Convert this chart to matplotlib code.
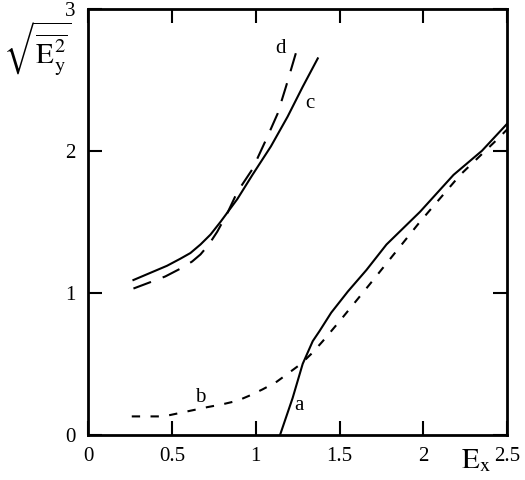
import numpy as np
import matplotlib.pyplot as plt

plt.rcParams['font.family'] = ['Liberation Serif', 'DejaVu Serif']
plt.rcParams['mathtext.fontset'] = 'stix'

# curve a (solid, lower)
a_x = [1.145, 1.22, 1.28, 1.34, 1.38, 1.45, 1.55, 1.66, 1.78, 1.98, 2.18, 2.35, 2.5]
a_y = [0.0, 0.26, 0.50, 0.66, 0.73, 0.86, 1.01, 1.16, 1.34, 1.57, 1.83, 2.00, 2.19]
# curve b (dashed, lower)
b_x = [0.26, 0.45, 0.59, 0.71, 0.80, 0.89, 0.97, 1.04, 1.12, 1.19, 1.27, 1.34, 1.40,
       1.50, 1.68, 1.98, 2.22, 2.45, 2.5]
b_y = [0.13, 0.13, 0.165, 0.195, 0.215, 0.24, 0.28, 0.32, 0.37, 0.43, 0.50, 0.58, 0.66,
       0.80, 1.06, 1.50, 1.83, 2.09, 2.15]
# curve c (solid, upper)
c_x = [0.27, 0.33, 0.39, 0.47, 0.55, 0.61, 0.67, 0.73, 0.79, 0.84, 0.89, 0.98, 1.09,
       1.19, 1.28, 1.37]
c_y = [1.09, 1.12, 1.15, 1.19, 1.24, 1.28, 1.34, 1.41, 1.50, 1.58, 1.66, 1.83, 2.03,
       2.24, 2.45, 2.65]
# curve d (dashed, upper)
d_x = [0.27, 0.36, 0.46, 0.55, 0.62, 0.67, 0.72, 0.77, 0.83, 0.89, 0.98, 1.07, 1.13,
       1.18, 1.25]
d_y = [1.03, 1.07, 1.115, 1.17, 1.22, 1.27, 1.34, 1.43, 1.56, 1.71, 1.87, 2.10, 2.26,
       2.45, 2.73]

x_ticks = [0, 0.5, 1, 1.5, 2, 2.5]
x_labels = ['0', '0.5', '1', '1.5', '2', '2.5']
y_ticks = [0, 1, 2, 3]

fig = plt.figure(figsize=(5.25, 4.8), dpi=100)
ax = fig.add_axes([0.168, 0.094, 0.798, 0.888])

ax.plot(a_x, a_y, color='black', lw=1.5)
ax.plot(b_x, b_y, color='black', lw=1.5, dashes=(4, 5))
ax.plot(c_x, c_y, color='black', lw=1.5)
ax.plot(d_x, d_y, color='black', lw=1.5, dashes=(9, 6))

# curve letters
ax.text(1.26, 0.21, 'a', fontsize=15, ha='center', va='center')
ax.text(0.67, 0.26, 'b', fontsize=15, ha='center', va='center')
ax.text(1.32, 2.33, 'c', fontsize=15, ha='center', va='center')
ax.text(1.15, 2.72, 'd', fontsize=15, ha='center', va='center')

ax.set_xlim(0, 2.5)
ax.set_ylim(0, 3)
ax.set_xticks(x_ticks)
ax.set_xticklabels(x_labels)
ax.set_yticks(y_ticks)
ax.tick_params(direction='in', length=10, width=1.5, labelsize=15,
               top=True, right=True, pad=9)
for s in ax.spines.values():
    s.set_linewidth(2)

# axis titles as free text, like the original scan
fig.text(0.005, 0.9, r'$\sqrt{\overline{\mathrm{E}_{\mathrm{y}}^{2}}}$', fontsize=21,
         ha='left', va='center')
fig.text(0.935, 0.04, r'$\mathrm{E}_{\mathrm{x}}$', fontsize=21, ha='right', va='center')

fig.savefig('out.png', dpi=100)
